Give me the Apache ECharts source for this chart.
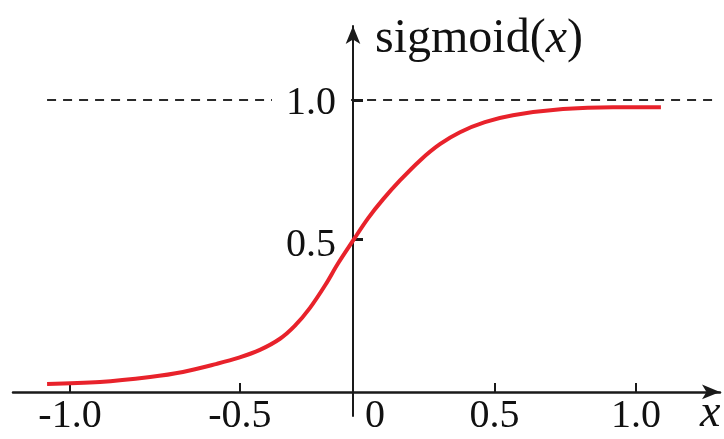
<!DOCTYPE html>
<html>
<head>
<meta charset="utf-8">
<script src="https://cdn.jsdelivr.net/npm/echarts@6/dist/echarts.min.js"></script>
<style>html,body{margin:0;padding:0;background:#fff;}#c{width:724px;height:439px;}</style>
</head>
<body>
<div id="c"></div>
<script>
// curve points: [x, sigmoid(x)]
var curveX = [-1.081, -0.894, -0.717, -0.601, -0.481, -0.403, -0.329, -0.258, -0.205, -0.152, -0.099, -0.053, 0.000, 0.053, 0.106, 0.166, 0.237, 0.307, 0.378, 0.466, 0.565, 0.742, 0.919, 1.088];
var curveY = [-0.018, -0.011, 0.007, 0.025, 0.054, 0.076, 0.104, 0.144, 0.191, 0.255, 0.335, 0.414, 0.496, 0.576, 0.644, 0.712, 0.784, 0.842, 0.885, 0.921, 0.946, 0.968, 0.975, 0.975];
// tick positions and labels as drawn in the picture
var xTickValues = [-1.0, -0.4, 0.5, 1.0];
var xLabelValues = [-1.0, -0.4, 0, 0.5, 1.0];
var xLabelTexts = ['-1.0', '-0.5', '0', '0.5', '1.0'];
var yTickValues = [0.5, 1.0];
var yLabelTexts = ['0.5', '1.0'];
// dashed asymptote line
var asymptoteY = 1.0;
var asymptoteX = [-1.081, 1.269];

var data = curveX.map(function (x, i) { return [x, curveY[i]]; });
var serif = 'Liberation Serif';

var chart = echarts.init(document.getElementById('c'), null, {renderer: 'canvas'});
chart.setOption({
  animation: false,
  backgroundColor: '#fff',
  title: [
    {
      text: '{a|sigmoid(}{b|x}{a|)}',
      left: 370, top: 10,
      textStyle: {
        fontWeight: 'normal',
        rich: {
          a: {fontFamily: serif, fontSize: 48, fontWeight: 'normal', color: '#111'},
          b: {fontFamily: serif, fontSize: 48, fontWeight: 'normal', fontStyle: 'italic', color: '#111'}
        }
      }
    },
    {
      text: 'x',
      left: 695, top: 386,
      textStyle: {fontFamily: serif, fontSize: 46, fontStyle: 'italic', fontWeight: 'normal', color: '#111'}
    }
  ],
  grid: {left: 13, right: 4, top: 26, bottom: 23, containLabel: false, outerBoundsMode: 'none'},
  xAxis: {
    type: 'value',
    min: -1.2014, max: 1.2968,
    axisLine: {
      onZero: true, onZeroAxisIndex: 1,
      symbol: ['none', 'arrow'], symbolSize: [11, 18],
      lineStyle: {color: '#1a1a1a', width: 2.5}
    },
    axisTick: {show: true, inside: true, length: 9, customValues: xTickValues, lineStyle: {color: '#1a1a1a', width: 2}},
    axisLabel: {
      show: true, margin: -20, customValues: xLabelValues,
      fontFamily: serif, fontSize: 40, color: '#111',
      formatter: function (v) {
        var i = xLabelValues.indexOf(v);
        var t = i >= 0 ? xLabelTexts[i] : '';
        return v === 0 ? '{z|' + t + '}' : t;
      },
      rich: {z: {fontFamily: serif, fontSize: 40, color: '#111', padding: [0, 0, 0, 44]}}
    },
    splitLine: {show: false}
  },
  yAxis: [
    {
      type: 'value',
      z: 1.5,
      min: -0.1331, max: 1.2662,
      axisLine: {
        show: true, onZero: true,
        symbol: ['none', 'arrow'], symbolSize: [11, 18],
        lineStyle: {color: '#1a1a1a', width: 2}
      },
      axisTick: {show: true, inside: true, length: 10, customValues: yTickValues, lineStyle: {color: '#1a1a1a', width: 3}},
      axisLabel: {
        show: true, margin: -337, customValues: yTickValues,
        fontFamily: serif, fontSize: 40, color: '#111',
        backgroundColor: '#fff',
        padding: [6, 14, 0, 14],
        formatter: function (v) {
          var i = yTickValues.indexOf(v);
          var t = i >= 0 ? yLabelTexts[i] : '';
          return v === 0.5 ? '{p|' + t + '}' : t;
        },
        rich: {p: {fontFamily: serif, fontSize: 40, color: '#111', padding: [6, 0, 0, 0]}}
      },
      splitLine: {show: false}
    },
    {
      type: 'value', show: false, min: -24, max: 365,
      axisLine: {show: false}, axisTick: {show: false}, axisLabel: {show: false}, splitLine: {show: false}
    }
  ],
  series: [{
    type: 'line',
    data: data,
    smooth: 0.35,
    symbol: 'none',
    z: 2,
    lineStyle: {color: '#e8222b', width: 4},
    markLine: {
      silent: true,
      z: 1,
      symbol: ['none', 'none'],
      label: {show: false},
      lineStyle: {color: '#2a2a2a', width: 2, type: [9, 7]},
      data: [[{coord: [asymptoteX[0], asymptoteY]}, {coord: [asymptoteX[1], asymptoteY]}]]
    }
  }]
});
</script>
</body>
</html>
